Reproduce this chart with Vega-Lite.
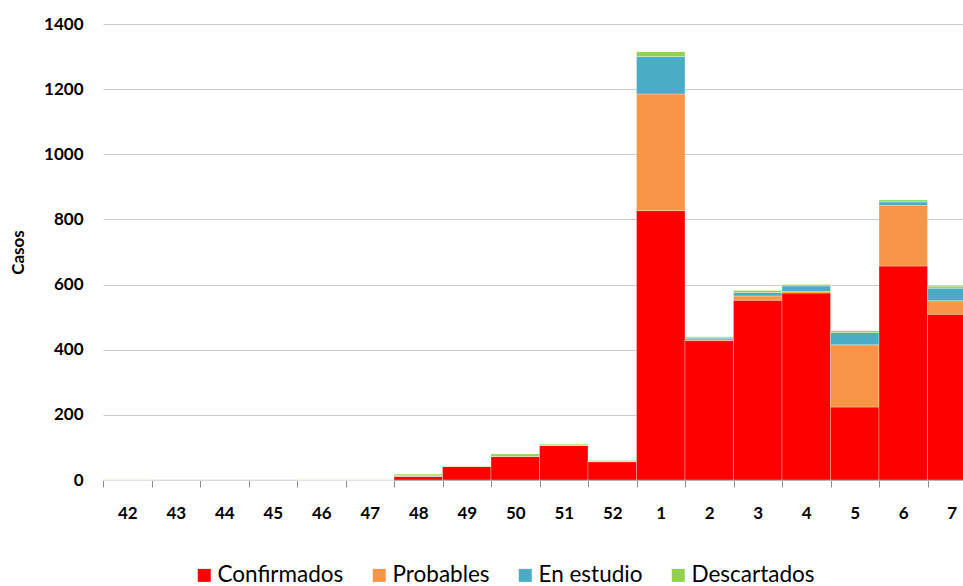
{
  "$schema": "https://vega.github.io/schema/vega-lite/v6.json",
  "autosize": {"type": "none"},
  "padding": {"left": 103, "top": 24, "right": 0, "bottom": 106},
  "width": 873,
  "height": 456,
  "background": "#ffffff",
  "config": {
    "view": {"stroke": null},
    "font": "Lato"
  },
  "data": {
    "values": [
      {"semana": "42", "tipo": "Confirmados", "casos": 0, "k": 1},
      {"semana": "42", "tipo": "Probables", "casos": 0, "k": 2},
      {"semana": "42", "tipo": "En estudio", "casos": 0, "k": 3},
      {"semana": "42", "tipo": "Descartados", "casos": 1, "k": 4},
      {"semana": "43", "tipo": "Confirmados", "casos": 0, "k": 1},
      {"semana": "43", "tipo": "Probables", "casos": 0, "k": 2},
      {"semana": "43", "tipo": "En estudio", "casos": 1, "k": 3},
      {"semana": "43", "tipo": "Descartados", "casos": 0, "k": 4},
      {"semana": "44", "tipo": "Confirmados", "casos": 0, "k": 1},
      {"semana": "44", "tipo": "Probables", "casos": 0, "k": 2},
      {"semana": "44", "tipo": "En estudio", "casos": 1, "k": 3},
      {"semana": "44", "tipo": "Descartados", "casos": 0, "k": 4},
      {"semana": "45", "tipo": "Confirmados", "casos": 0, "k": 1},
      {"semana": "45", "tipo": "Probables", "casos": 0, "k": 2},
      {"semana": "45", "tipo": "En estudio", "casos": 1, "k": 3},
      {"semana": "45", "tipo": "Descartados", "casos": 0, "k": 4},
      {"semana": "46", "tipo": "Confirmados", "casos": 0, "k": 1},
      {"semana": "46", "tipo": "Probables", "casos": 0, "k": 2},
      {"semana": "46", "tipo": "En estudio", "casos": 0, "k": 3},
      {"semana": "46", "tipo": "Descartados", "casos": 1, "k": 4},
      {"semana": "47", "tipo": "Confirmados", "casos": 0, "k": 1},
      {"semana": "47", "tipo": "Probables", "casos": 0, "k": 2},
      {"semana": "47", "tipo": "En estudio", "casos": 0, "k": 3},
      {"semana": "47", "tipo": "Descartados", "casos": 1, "k": 4},
      {"semana": "48", "tipo": "Confirmados", "casos": 11, "k": 1},
      {"semana": "48", "tipo": "Probables", "casos": 2, "k": 2},
      {"semana": "48", "tipo": "En estudio", "casos": 0, "k": 3},
      {"semana": "48", "tipo": "Descartados", "casos": 5, "k": 4},
      {"semana": "49", "tipo": "Confirmados", "casos": 42, "k": 1},
      {"semana": "49", "tipo": "Probables", "casos": 0, "k": 2},
      {"semana": "49", "tipo": "En estudio", "casos": 0, "k": 3},
      {"semana": "49", "tipo": "Descartados", "casos": 1, "k": 4},
      {"semana": "50", "tipo": "Confirmados", "casos": 73, "k": 1},
      {"semana": "50", "tipo": "Probables", "casos": 0, "k": 2},
      {"semana": "50", "tipo": "En estudio", "casos": 0, "k": 3},
      {"semana": "50", "tipo": "Descartados", "casos": 7, "k": 4},
      {"semana": "51", "tipo": "Confirmados", "casos": 106, "k": 1},
      {"semana": "51", "tipo": "Probables", "casos": 0, "k": 2},
      {"semana": "51", "tipo": "En estudio", "casos": 0, "k": 3},
      {"semana": "51", "tipo": "Descartados", "casos": 4, "k": 4},
      {"semana": "52", "tipo": "Confirmados", "casos": 56, "k": 1},
      {"semana": "52", "tipo": "Probables", "casos": 1, "k": 2},
      {"semana": "52", "tipo": "En estudio", "casos": 0, "k": 3},
      {"semana": "52", "tipo": "Descartados", "casos": 3, "k": 4},
      {"semana": "1", "tipo": "Confirmados", "casos": 827, "k": 1},
      {"semana": "1", "tipo": "Probables", "casos": 358, "k": 2},
      {"semana": "1", "tipo": "En estudio", "casos": 115, "k": 3},
      {"semana": "1", "tipo": "Descartados", "casos": 15, "k": 4},
      {"semana": "2", "tipo": "Confirmados", "casos": 428, "k": 1},
      {"semana": "2", "tipo": "Probables", "casos": 6, "k": 2},
      {"semana": "2", "tipo": "En estudio", "casos": 4, "k": 3},
      {"semana": "2", "tipo": "Descartados", "casos": 2, "k": 4},
      {"semana": "3", "tipo": "Confirmados", "casos": 552, "k": 1},
      {"semana": "3", "tipo": "Probables", "casos": 13, "k": 2},
      {"semana": "3", "tipo": "En estudio", "casos": 11, "k": 3},
      {"semana": "3", "tipo": "Descartados", "casos": 6, "k": 4},
      {"semana": "4", "tipo": "Confirmados", "casos": 574, "k": 1},
      {"semana": "4", "tipo": "Probables", "casos": 5, "k": 2},
      {"semana": "4", "tipo": "En estudio", "casos": 17, "k": 3},
      {"semana": "4", "tipo": "Descartados", "casos": 4, "k": 4},
      {"semana": "5", "tipo": "Confirmados", "casos": 224, "k": 1},
      {"semana": "5", "tipo": "Probables", "casos": 191, "k": 2},
      {"semana": "5", "tipo": "En estudio", "casos": 38, "k": 3},
      {"semana": "5", "tipo": "Descartados", "casos": 5, "k": 4},
      {"semana": "6", "tipo": "Confirmados", "casos": 657, "k": 1},
      {"semana": "6", "tipo": "Probables", "casos": 186, "k": 2},
      {"semana": "6", "tipo": "En estudio", "casos": 11, "k": 3},
      {"semana": "6", "tipo": "Descartados", "casos": 6, "k": 4},
      {"semana": "7", "tipo": "Confirmados", "casos": 509, "k": 1},
      {"semana": "7", "tipo": "Probables", "casos": 41, "k": 2},
      {"semana": "7", "tipo": "En estudio", "casos": 39, "k": 3},
      {"semana": "7", "tipo": "Descartados", "casos": 6, "k": 4}
    ]
  },
  "mark": {"type": "bar", "stroke": "#ffffff", "strokeWidth": 0.5, "strokeOpacity": 0.6},
  "encoding": {
    "x": {
      "field": "semana",
      "type": "nominal",
      "sort": ["42","43","44","45","46","47","48","49","50","51","52","1","2","3","4","5","6","7"],
      "scale": {"paddingInner": 0, "paddingOuter": 0},
      "axis": {
        "title": null,
        "labelAngle": 0,
        "labelFont": "Lato",
        "labelFontWeight": "bold",
        "labelFontSize": 17,
        "labelColor": "#000000",
        "labelPadding": 18,
        "tickBand": "extent",
        "tickSize": 7,
        "tickColor": "#8c8c8c",
        "domainColor": "#a6a6a6",
        "domainWidth": 1,
        "grid": false
      }
    },
    "y": {
      "field": "casos",
      "type": "quantitative",
      "stack": "zero",
      "scale": {"domain": [0, 1400], "nice": false},
      "axis": {
        "title": "Casos",
        "titleFont": "Lato",
        "titleFontWeight": "bold",
        "titleFontSize": 17,
        "titleColor": "#000000",
        "titlePadding": 16,
        "values": [0, 200, 400, 600, 800, 1000, 1200, 1400],
        "format": "d",
        "labelFont": "Lato",
        "labelFontWeight": "bold",
        "labelFontSize": 17,
        "labelColor": "#000000",
        "labelPadding": 20,
        "ticks": false,
        "domain": false,
        "grid": true,
        "gridColor": "#cccccc",
        "gridWidth": 1
      }
    },
    "color": {
      "field": "tipo",
      "type": "nominal",
      "scale": {
        "domain": ["Confirmados", "Probables", "En estudio", "Descartados"],
        "range": ["#ff0000", "#f79646", "#4bacc6", "#92d050"]
      },
      "legend": {
        "title": null,
        "orient": "none",
        "legendX": 90,
        "legendY": 540,
        "direction": "horizontal",
        "symbolType": "square",
        "symbolSize": 169,
        "symbolStrokeWidth": 0,
        "labelFont": "Lato",
        "labelFontSize": 22.5,
        "labelColor": "#000000",
        "labelOffset": 2,
        "columnPadding": 24,
        "labelLimit": 300
      }
    },
    "order": {"field": "k", "type": "quantitative"}
  }
}
